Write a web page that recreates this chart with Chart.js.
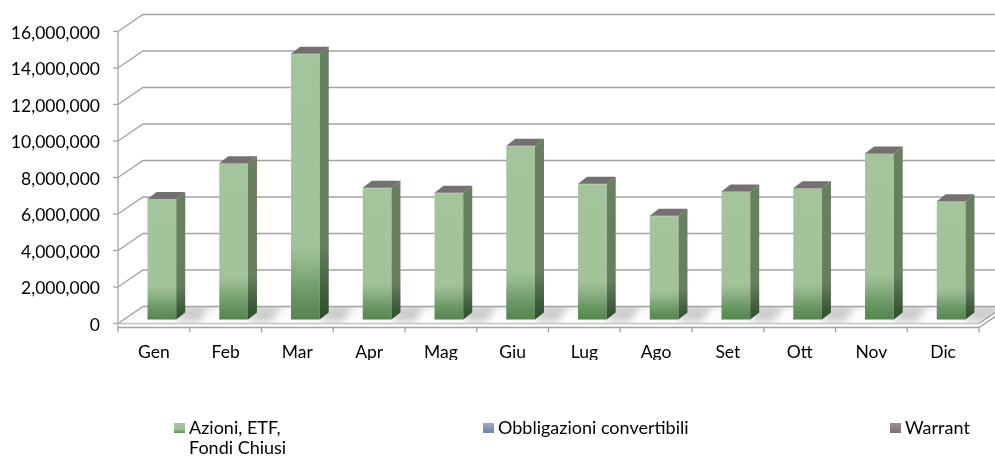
<!DOCTYPE html>
<html><head><meta charset="utf-8">
<script src="https://cdn.jsdelivr.net/npm/chart.js@4.4.1/dist/chart.umd.min.js"></script>
<style>html,body{margin:0;padding:0;background:#fff;overflow:hidden}</style>
</head><body>
<canvas id="c" width="995" height="459"></canvas>
<script>
// ---- data ----
const categories = ['Gen','Feb','Mar','Apr','Mag','Giu','Lug','Ago','Set','Ott','Nov','Dic'];
const azioni = [6600000, 8560000, 14560000, 7220000, 6940000, 9520000, 7440000, 5680000, 7010000, 7190000, 9100000, 6480000];
const obbligazioni = [5000, 5000, 5000, 5000, 5000, 5000, 5000, 5000, 5000, 5000, 5000, 5000];
const warrant = [25000, 25000, 25000, 25000, 25000, 25000, 25000, 25000, 25000, 25000, 25000, 25000];
const seriesNames = ['Azioni, ETF, Fondi Chiusi', 'Obbligazioni convertibili', 'Warrant'];
const legendLines = [['Azioni, ETF,', 'Fondi Chiusi'], ['Obbligazioni convertibili'], ['Warrant']];
const yMin = 0, yMax = 16000000, yStep = 2000000;

// ---- style ----
const FONT = {family: 'Lato, "Open Sans", sans-serif', size: 17.5};
const LEGEND_FONT_SIZE = 18;
const GRID = '#a3a3a3';
const FRONT = {dx: -8, dy: 3.5};   // front plane offset from bar plane
const BACK = {dx: 17, dy: -13.5};  // back wall offset from bar plane
const DEPTH = {dx: 9, dy: -7};     // bar depth
const HIDDEN_GRID = len => ({display: true, drawOnChartArea: false, drawTicks: true, tickLength: len, color: 'rgba(0,0,0,0)'});

function faceGrad(ctx, top, bot, stops) {
  const g = ctx.createLinearGradient(0, top, 0, bot);
  stops.forEach(s => g.addColorStop(s[0], s[1]));
  return g;
}
const frontStops = [[0,'#a4c59c'],[0.72,'#a2c39a'],[0.78,'#93b68b'],[0.9,'#6a9764'],[1,'#55844f']];
const sideStops  = [[0,'#67805f'],[0.72,'#66805e'],[0.8,'#557051'],[0.92,'#3b5a37'],[1,'#2f4c2c']];

const threeD = {
  id: 'threeD',
  beforeDatasetsDraw(chart) {
    const ctx = chart.ctx, ys = chart.scales.y, xs = chart.scales.x, ca = chart.chartArea;
    const W = chart.width;
    const fx0 = ca.left + FRONT.dx, fx1 = ca.right + FRONT.dx;
    const bx0 = ca.left + BACK.dx, bx1 = ca.right + BACK.dx;
    const y0 = ys.getPixelForValue(0);
    ctx.save();
    // floor
    const fy = y0 + FRONT.dy, by = y0 + BACK.dy;
    const floorPath = () => {
      ctx.beginPath();
      ctx.moveTo(fx0, fy); ctx.lineTo(fx1, fy); ctx.lineTo(bx1, by); ctx.lineTo(bx0, by); ctx.closePath();
    };
    floorPath();
    ctx.fillStyle = faceGrad(ctx, by, fy, [[0,'#e6e6e6'],[0.5,'#f0f0f0'],[1,'#fbfbfb']]);
    ctx.fill();
    // floor shadows next to bars
    ctx.save();
    floorPath();
    ctx.clip();
    ctx.filter = 'blur(4px)';
    const meta0 = chart.getDatasetMeta(0);
    meta0.data.forEach(b => {
      const r = b.x + b.width / 2;
      const l = b.x - b.width / 2;
      ctx.fillStyle = 'rgba(120,120,120,0.32)';
      ctx.beginPath();
      ctx.moveTo(r, y0 + 2); ctx.lineTo(r + 22, y0 + 2); ctx.lineTo(r + 36, y0 - 12); ctx.lineTo(r + 8, y0 - 12); ctx.closePath();
      ctx.fill();
      ctx.fillStyle = 'rgba(255,255,255,1)';
      ctx.beginPath();
      ctx.moveTo(l - 18, y0 + 4); ctx.lineTo(l - 4, y0 + 4); ctx.lineTo(l + 6, y0 - 12); ctx.lineTo(l - 8, y0 - 12); ctx.closePath();
      ctx.fill();
    });
    ctx.restore();
    // gridlines: back wall + left wall diagonals + front ticks
    ctx.strokeStyle = GRID; ctx.lineWidth = 1.3;
    ys.ticks.forEach(t => {
      const y = ys.getPixelForValue(t.value);
      ctx.beginPath();
      ctx.moveTo(fx0, y + FRONT.dy); ctx.lineTo(bx0, y + BACK.dy); ctx.lineTo(W + 5, y + BACK.dy);
      ctx.stroke();
      ctx.beginPath();
      ctx.moveTo(fx0 - 5, y + FRONT.dy); ctx.lineTo(fx0, y + FRONT.dy);
      ctx.stroke();
    });
    // left front edge
    const yTop = ys.getPixelForValue(yMax) + FRONT.dy;
    ctx.beginPath(); ctx.moveTo(fx0, yTop); ctx.lineTo(fx0, fy + 4); ctx.stroke();
    // floor front edge / base line, right diagonal
    ctx.strokeStyle = '#c4c4c4';
    ctx.beginPath(); ctx.moveTo(fx0, fy); ctx.lineTo(fx1, fy); ctx.stroke();
    ctx.strokeStyle = GRID;
    ctx.beginPath(); ctx.moveTo(fx0, fy + 4); ctx.lineTo(fx1, fy + 4); ctx.lineTo(bx1, by + 4); ctx.stroke();
    ctx.beginPath(); ctx.moveTo(fx1, fy); ctx.lineTo(bx1, by); ctx.stroke();
    // category ticks
    const n = categories.length;
    for (let i = 0; i <= n; i++) {
      const x = (i < n ? xs.getPixelForValue(i) - xs.width / n / 2 : xs.getPixelForValue(n - 1) + xs.width / n / 2) + FRONT.dx;
      ctx.beginPath(); ctx.moveTo(x, fy + 4); ctx.lineTo(x, fy + 9); ctx.stroke();
    }
    ctx.restore();
  },
  afterDatasetsDraw(chart) {
    const ctx = chart.ctx;
    const nd = chart.data.datasets.length;
    const base = chart.getDatasetMeta(0).data;
    const topMeta = chart.getDatasetMeta(nd - 1).data;
    ctx.save();
    base.forEach((b, i) => {
      const top = topMeta[i].y, bot = b.base;
      const l = b.x - b.width / 2, r = b.x + b.width / 2;
      // side face
      ctx.beginPath();
      ctx.moveTo(r, top); ctx.lineTo(r + DEPTH.dx, top + DEPTH.dy); ctx.lineTo(r + DEPTH.dx, bot + DEPTH.dy); ctx.lineTo(r, bot); ctx.closePath();
      ctx.fillStyle = faceGrad(ctx, top, bot, sideStops);
      ctx.fill();
      // top cap (colour of top series)
      ctx.beginPath();
      ctx.moveTo(l, top); ctx.lineTo(l + DEPTH.dx, top + DEPTH.dy); ctx.lineTo(r + DEPTH.dx, top + DEPTH.dy); ctx.lineTo(r, top); ctx.closePath();
      ctx.fillStyle = '#747070';
      ctx.fill();
    });
    ctx.restore();
  },
  afterDraw(chart) {
    const ctx = chart.ctx;
    const boxX = [174, 483, 890];
    const boxes = [
      [[0,'#a4c59c'],[0.6,'#9fc197'],[1,'#5f8f59']],
      [[0,'#9aabc4'],[1,'#6f86a6']],
      [[0,'#9a9292'],[1,'#7a7272']]
    ];
    ctx.save();
    ctx.font = LEGEND_FONT_SIZE + 'px ' + FONT.family;
    ctx.textBaseline = 'middle';
    legendLines.forEach((lines, i) => {
      const x = boxX[i];
      ctx.fillStyle = faceGrad(ctx, 423, 433, boxes[i]);
      ctx.fillRect(x, 423, 11, 10);
      ctx.fillStyle = '#000';
      lines.forEach((t, k) => ctx.fillText(t, x + 15, 428 + k * 20));
    });
    ctx.restore();
  }
};

new Chart(document.getElementById('c'), {
  type: 'bar',
  data: {
    labels: categories,
    datasets: [
      {label: seriesNames[0], data: azioni,
       backgroundColor: c => {
         const ch = c.chart;
         if (!ch.chartArea || c.type !== 'data') return '#a3c49b';
         const ys = ch.scales.y;
         return faceGrad(ch.ctx, ys.getPixelForValue(c.parsed.y), ys.getPixelForValue(0), frontStops);
       }},
      {label: seriesNames[1], data: obbligazioni, backgroundColor: '#7f93b0'},
      {label: seriesNames[2], data: warrant, backgroundColor: '#847c7c'}
    ]
  },
  options: {
    responsive: false,
    animation: false,
    devicePixelRatio: 1,
    layout: {padding: {left: 0, right: 8, top: 28, bottom: 99}},
    datasets: {bar: {barPercentage: 0.4, categoryPercentage: 1, borderWidth: 0}},
    plugins: {legend: {display: false}, tooltip: {enabled: false}},
    scales: {
      x: {
        stacked: true,
        grid: HIDDEN_GRID(22),
        border: {display: false},
        ticks: {color: '#000', font: FONT, padding: 0, labelOffset: FRONT.dx, maxRotation: 0},
        afterFit: s => { s.height = 40; }
      },
      y: {
        stacked: true, min: yMin, max: yMax,
        grid: HIDDEN_GRID(26),
        border: {display: false},
        ticks: {stepSize: yStep, color: '#000', font: FONT, padding: 0, labelOffset: 5,
                callback: v => Number(v).toLocaleString('en-US')},
        afterFit: s => { s.width = 126; }
      }
    }
  },
  plugins: [threeD]
});
</script>
</body></html>
